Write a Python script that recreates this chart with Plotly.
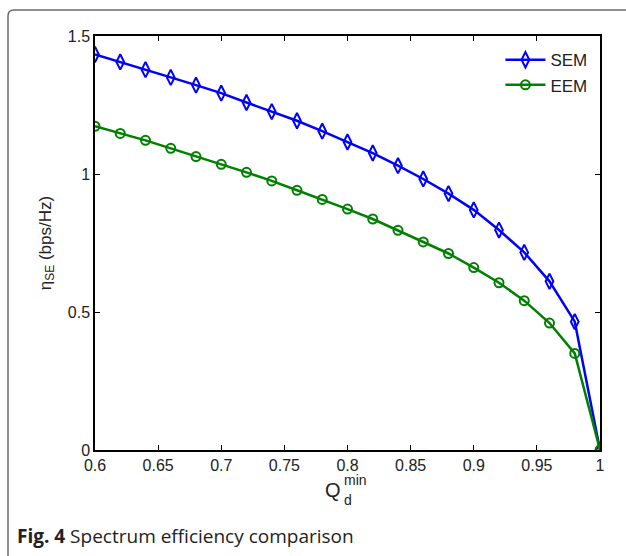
import plotly.graph_objects as go

q_min = [0.60, 0.62, 0.64, 0.66, 0.68, 0.70, 0.72, 0.74, 0.76, 0.78, 0.80,
         0.82, 0.84, 0.86, 0.88, 0.90, 0.92, 0.94, 0.96, 0.98, 1.00]
sem = [1.433, 1.406, 1.378, 1.350, 1.322, 1.293, 1.259, 1.226, 1.193, 1.155, 1.116,
       1.076, 1.030, 0.982, 0.929, 0.870, 0.797, 0.716, 0.611, 0.465, 0.0]
eem = [1.173, 1.147, 1.122, 1.093, 1.063, 1.035, 1.006, 0.975, 0.941, 0.908, 0.873,
       0.837, 0.796, 0.754, 0.712, 0.661, 0.606, 0.541, 0.460, 0.350, 0.0]
x_ticks = [0.6, 0.65, 0.7, 0.75, 0.8, 0.85, 0.9, 0.95, 1.0]
x_tick_labels = ["0.6", "0.65", "0.7", "0.75", "0.8", "0.85", "0.9", "0.95", "1"]
y_ticks = [0, 0.5, 1, 1.5]
y_tick_labels = ["0", "0.5", "1", "1.5"]

W, H = 626, 556
L, R, T, B = 95, 26, 36, 106
pw, ph = W - L - R, H - T - B

def px(x):
    return (x - L) / pw

def py(y):
    return (H - B - y) / ph

fig = go.Figure()
fig.add_trace(go.Scatter(
    x=q_min, y=sem, name="SEM", mode="lines+markers",
    line=dict(color="#0000FF", width=2.5),
    marker=dict(symbol="diamond-tall-open", size=11, color="#0000FF",
                line=dict(width=2, color="#0000FF")),
))
fig.add_trace(go.Scatter(
    x=q_min, y=eem, name="EEM", mode="lines+markers",
    line=dict(color="#008000", width=2.5),
    marker=dict(symbol="circle-open", size=9, color="#008000",
                line=dict(width=2, color="#008000")),
))

axis_common = dict(
    showline=True, linecolor="black", linewidth=1.5, mirror="allticks",
    ticks="inside", ticklen=5, tickwidth=1, tickcolor="black",
    showgrid=False, zeroline=False,
    tickfont=dict(family="Liberation Sans, Arial", size=16, color="#222"),
)

fig.update_layout(
    width=W, height=H,
    margin=dict(l=L, r=R, t=T, b=B),
    paper_bgcolor="white", plot_bgcolor="white",
    xaxis=dict(range=[0.6, 1.0], tickvals=x_ticks, ticktext=x_tick_labels, **axis_common),
    yaxis=dict(range=[0, 1.5], tickvals=y_ticks, ticktext=y_tick_labels,
               title=dict(text="η<sub>SE</sub> (bps/Hz)", standoff=12,
                          font=dict(family="Liberation Sans, Arial", size=17, color="#222")),
               **axis_common),
    legend=dict(x=0.985, y=0.985, xanchor="right", yanchor="top",
                bgcolor="rgba(0,0,0,0)", borderwidth=0,
                font=dict(family="Liberation Sans, Arial", size=17, color="#222"),
                tracegroupgap=0, itemwidth=40),
    showlegend=True,
)

# outer rounded frame
r = 6
path = (f"M {px(8)},{py(600)} L {px(8)},{py(10 + r)} "
        f"Q {px(8)},{py(10)} {px(8 + r)},{py(10)} L {px(660)},{py(10)}")
fig.add_shape(type="path", path=path, xref="paper", yref="paper",
              line=dict(color="#6a6a6a", width=1.5))

# x axis title Q_d^min
lab_font = dict(family="Liberation Sans, Arial", color="#222")
fig.add_annotation(text="Q", x=px(343), y=py(490), xref="paper", yref="paper",
                   xanchor="right", yanchor="middle", showarrow=False,
                   font=dict(size=20, **lab_font))
fig.add_annotation(text="min", x=px(342), y=py(480), xref="paper", yref="paper",
                   xanchor="left", yanchor="middle", showarrow=False,
                   font=dict(size=14, **lab_font))
fig.add_annotation(text="d", x=px(342), y=py(500), xref="paper", yref="paper",
                   xanchor="left", yanchor="middle", showarrow=False,
                   font=dict(size=14, **lab_font))

# caption
fig.add_annotation(text="<b>Fig. 4</b> Spectrum efficiency comparison",
                   x=px(15), y=py(536), xref="paper", yref="paper",
                   xanchor="left", yanchor="middle", showarrow=False,
                   font=dict(family="Open Sans", size=19, color="#222"))

fig.write_html("out.html")
